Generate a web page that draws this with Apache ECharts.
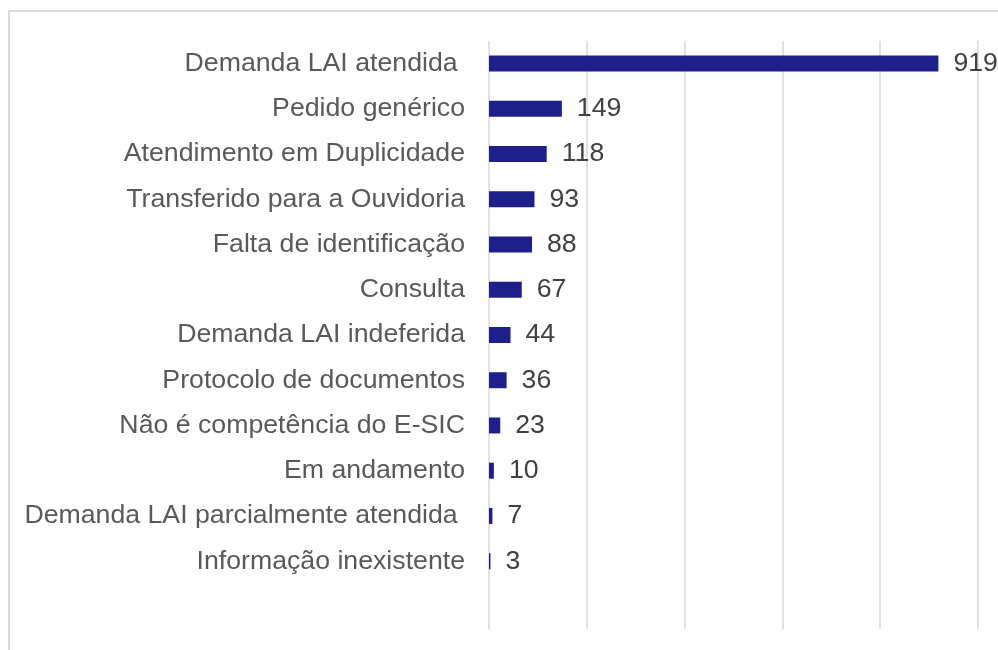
<!DOCTYPE html>
<html>
<head>
<meta charset="utf-8">
<script src="https://cdn.jsdelivr.net/npm/echarts@6/dist/echarts.min.js"></script>
<style>
html,body{margin:0;padding:0;background:#fff;}
#c{width:998px;height:650px;}
</style>
</head>
<body>
<div id="c"></div>
<script>
var categories = [
  'Demanda LAI atendida ',
  'Pedido genérico',
  'Atendimento em Duplicidade',
  'Transferido para a Ouvidoria',
  'Falta de identificação',
  'Consulta',
  'Demanda LAI indeferida',
  'Protocolo de documentos',
  'Não é competência do E-SIC',
  'Em andamento',
  'Demanda LAI parcialmente atendida ',
  'Informação inexistente',
  ''
];
var values = [919, 149, 118, 93, 88, 67, 44, 36, 23, 10, 7, 3, null];

var chart = echarts.init(document.getElementById('c'), null, {renderer: 'canvas'});
chart.setOption({
  animation: false,
  backgroundColor: '#ffffff',
  textStyle: {fontFamily: 'Liberation Sans, Arial, sans-serif'},
  graphic: [{
    type: 'rect',
    shape: {x: 9, y: 11, width: 1200, height: 1000},
    style: {fill: 'none', stroke: '#D9D9D9', lineWidth: 2},
    silent: true,
    z: -10
  }],
  grid: {left: 489, top: 41, width: 489, height: 588, containLabel: false},
  xAxis: {
    type: 'value',
    min: 0,
    max: 1000,
    interval: 200,
    axisLine: {show: false},
    axisTick: {show: false},
    axisLabel: {show: false},
    splitLine: {show: true, lineStyle: {color: '#D9D9D9', width: 1.5}}
  },
  yAxis: {
    type: 'category',
    inverse: true,
    data: categories,
    axisLine: {show: false},
    axisTick: {show: false},
    axisLabel: {
      fontSize: 26.7,
      color: '#595959',
      margin: 24,
      fontFamily: 'Liberation Sans, Arial, sans-serif'
    }
  },
  series: [{
    type: 'bar',
    data: values,
    barWidth: 16,
    itemStyle: {color: '#1F1F8C'},
    label: {
      show: true,
      position: 'right',
      distance: 15,
      fontSize: 26.7,
      color: '#404040',
      fontFamily: 'Liberation Sans, Arial, sans-serif'
    }
  }]
});
</script>
</body>
</html>
